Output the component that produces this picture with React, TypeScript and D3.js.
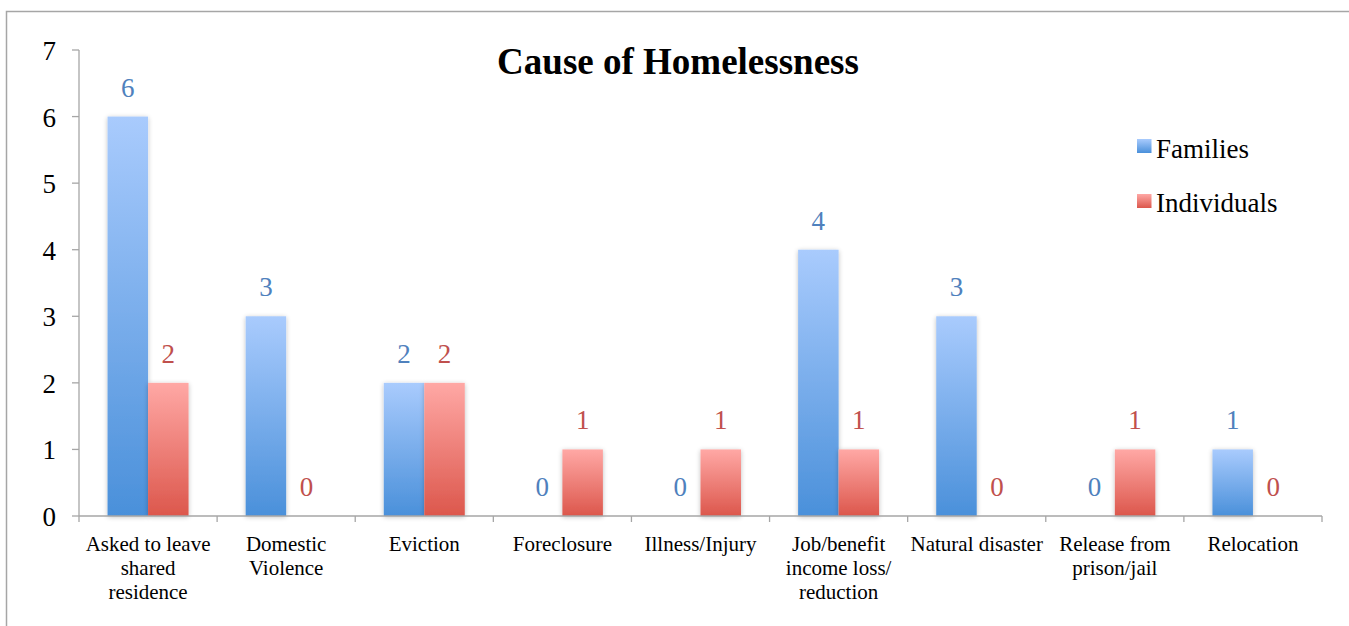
import React from "react";
import * as d3 from "d3";

const categories = [
  ["Asked to leave", "shared", "residence"],
  ["Domestic", "Violence"],
  ["Eviction"],
  ["Foreclosure"],
  ["Illness/Injury"],
  ["Job/benefit", "income loss/", "reduction"],
  ["Natural disaster"],
  ["Release from", "prison/jail"],
  ["Relocation"],
];
const families = [6, 3, 2, 0, 0, 4, 3, 0, 1];
const individuals = [2, 0, 2, 1, 1, 1, 0, 1, 0];
const yTicks = [0, 1, 2, 3, 4, 5, 6, 7];
const seriesNames = ["Families", "Individuals"];

const FONT = "Liberation Serif";

export default function App() {
  const W = 1349, H = 626;
  const x0 = 79, x1 = 1322, yTop = 50, yBot = 516;
  const y = d3.scaleLinear().domain([0, 7]).range([yBot, yTop]);
  const xb = d3.scaleBand().domain(categories.map((_, i) => String(i))).range([x0, x1]).paddingInner(0).paddingOuter(0);
  const bw = xb.bandwidth();
  const barW = 40.5;
  const blue = "#4f81bd", red = "#c0504d";
  const series = [families, individuals];
  return (
    <div style={{ position: "absolute", left: 0, top: 0, width: W, height: H, fontFamily: FONT }}>
      <svg width={W} height={H} fontFamily={FONT}>
        <defs>
          <linearGradient id="gB" x1="0" y1="0" x2="0" y2="1">
            <stop offset="0" stopColor="#a9cbfd" />
            <stop offset="1" stopColor="#4a90da" />
          </linearGradient>
          <linearGradient id="gR" x1="0" y1="0" x2="0" y2="1">
            <stop offset="0" stopColor="#ffa8a5" />
            <stop offset="1" stopColor="#dc574c" />
          </linearGradient>
          <filter id="sh" x="-30%" y="-10%" width="160%" height="120%">
            <feGaussianBlur in="SourceAlpha" stdDeviation="2.5" />
            <feOffset dx="0" dy="1" result="b" />
            <feComponentTransfer><feFuncA type="linear" slope="0.25" /></feComponentTransfer>
            <feMerge><feMergeNode /><feMergeNode in="SourceGraphic" /></feMerge>
          </filter>
        </defs>
        <rect x={0} y={0} width={W} height={H} fill="#fff" />
        <path d={`M6.5,${H} V11.5 H${W}`} fill="none" stroke="#a6a6a6" strokeWidth={1.5} />
        <line x1={x0} x2={x0} y1={yTop} y2={yBot} stroke="#a6a6a6" strokeWidth={1.3} />
        {yTicks.map((t) => (
          <g key={t}>
            <line x1={x0 - 7} x2={x0} y1={y(t)} y2={y(t)} stroke="#a6a6a6" strokeWidth={1.3} />
            <text x={56} y={y(t) + 10} textAnchor="end" fontSize={27} fill="#000" fontFamily={FONT}>{t}</text>
          </g>
        ))}
        {categories.map((_, i) => {
          const cx = (xb(String(i)) as number) + bw / 2;
          return (
            <g key={i}>
              {series.map((s, k) => {
                const bx = cx - barW + k * barW;
                const v = s[i];
                return (
                  <g key={k}>
                    {v > 0 && (
                      <rect x={bx} y={y(v)} width={barW} height={yBot - y(v)} fill={k === 0 ? "url(#gB)" : "url(#gR)"} filter="url(#sh)" />
                    )}
                    <text x={bx + barW / 2} y={y(v) - 20} textAnchor="middle" fontSize={27} fill={k === 0 ? blue : red} fontFamily={FONT}>{v}</text>
                  </g>
                );
              })}
            </g>
          );
        })}
        <line x1={x0} x2={x1} y1={yBot} y2={yBot} stroke="#a6a6a6" strokeWidth={1.3} />
        {d3.range(categories.length + 1).map((i) => (
          <line key={i} x1={x0 + i * bw} x2={x0 + i * bw} y1={yBot} y2={yBot + 6} stroke="#a6a6a6" strokeWidth={1.3} />
        ))}
        {categories.map((lines, i) => {
          const cx = (xb(String(i)) as number) + bw / 2;
          return (
            <text key={i} textAnchor="middle" fontSize={21} fill="#000" fontFamily={FONT}>
              {lines.map((l, j) => (
                <tspan key={j} x={cx} y={551 + j * 24}>{l}</tspan>
              ))}
            </text>
          );
        })}
        <text x={678} y={74} textAnchor="middle" fontSize={37} fontWeight="bold" fill="#000" fontFamily={FONT}>Cause of Homelessness</text>
        {seriesNames.map((n, k) => (
          <g key={n}>
            <rect x={1137} y={139 + k * 55} width={14.5} height={14} fill={k === 0 ? "url(#gB)" : "url(#gR)"} />
            <text x={1156} y={158 + k * 54} fontSize={27} fill="#000" fontFamily={FONT}>{n}</text>
          </g>
        ))}
      </svg>
    </div>
  );
}
